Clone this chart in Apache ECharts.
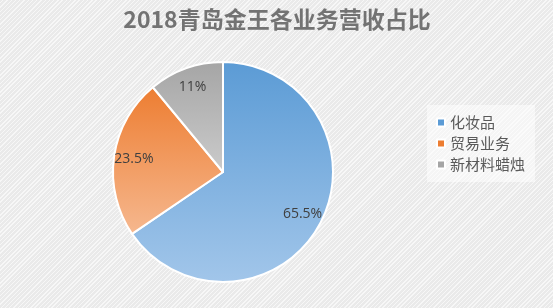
<!DOCTYPE html>
<html><head><meta charset="utf-8">
<script src="https://cdn.jsdelivr.net/npm/echarts@6/dist/echarts.min.js"></script>
<style>
html,body{margin:0;padding:0;}
body{width:553px;height:308px;background-color:#efefef;
background-image:repeating-linear-gradient(-45deg,#f7f7f7 0px,#f7f7f7 1px,#eaeaea 1px,#eaeaea 3px);}
#c{width:553px;height:308px;}
</style></head>
<body><div id="c"></div>
<script>
const title = '2018青岛金王各业务营收占比';
const categories = ['化妆品', '贸易业务', '新材料蜡烛'];
const values = [65.5, 23.5, 11];
const topColors = ['#5b9bd5', '#ed7d31', '#a5a5a5'];
const bottomColors = ['#a2c6ea', '#f6b88f', '#cbcbcb'];

const chart = echarts.init(document.getElementById('c'), null, {renderer: 'canvas'});
const grad = (i) => new echarts.graphic.LinearGradient(0, 0, 0, 1, [
  {offset: 0, color: topColors[i]}, {offset: 1, color: bottomColors[i]}
]);
const center = [223, 172];
chart.setOption({
  backgroundColor: 'transparent',
  title: {
    text: title, left: 272, textAlign: 'center', top: 3,
    textStyle: {fontFamily: 'Noto Sans CJK SC', fontWeight: 'bold', fontSize: 23, color: '#737373'}
  },
  legend: {
    orient: 'vertical', left: 427, top: 105,
    padding: [10, 10, 10, 9],
    backgroundColor: 'rgba(255,255,255,0.5)',
    icon: 'rect', itemWidth: 8, itemHeight: 8, itemGap: 6,
    textStyle: {fontFamily: 'Noto Sans CJK SC', fontSize: 15, color: '#595959'},
    data: categories.map((n, i) => ({name: n, itemStyle: {color: topColors[i]}}))
  },
  series: [
    {
      type: 'pie', center: center, radius: [0, 110], startAngle: 90, clockwise: true,
      silent: true,
      itemStyle: {borderColor: '#ffffff', borderWidth: 2},
      label: {show: false}, labelLine: {show: false},
      data: categories.map((n, i) => ({name: n, value: values[i], itemStyle: {color: grad(i)}}))
    },
    {
      type: 'pie', center: center, radius: [64, 110], startAngle: 90, clockwise: true,
      silent: true, z: 5,
      itemStyle: {color: 'rgba(0,0,0,0)', borderWidth: 0},
      label: {show: true, position: 'inside', formatter: '{c}%',
        fontFamily: 'Open Sans', fontSize: 14, color: '#404040'},
      labelLine: {show: false},
      data: categories.map((n, i) => ({name: n, value: values[i]}))
    }
  ]
});
</script></body></html>
